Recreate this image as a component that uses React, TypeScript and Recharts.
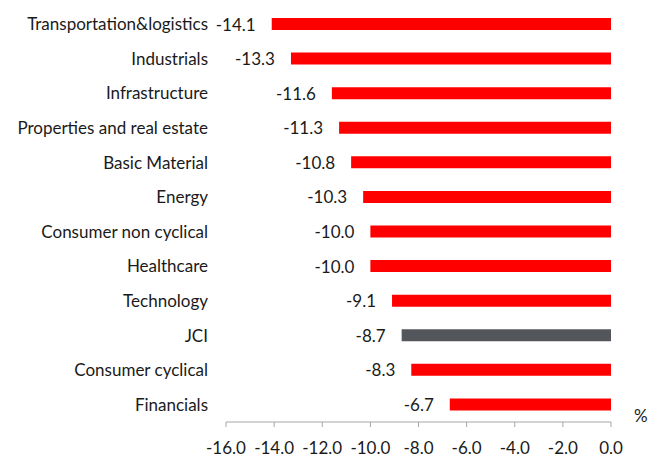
import React from "react";
import { BarChart, Bar, XAxis, YAxis, Cell, LabelList } from "recharts";

const sectors = [
  "Transportation&logistics",
  "Industrials",
  "Infrastructure",
  "Properties and real estate",
  "Basic Material",
  "Energy",
  "Consumer non cyclical",
  "Healthcare",
  "Technology",
  "JCI",
  "Consumer cyclical",
  "Financials",
];

const changes = [-14.1, -13.3, -11.6, -11.3, -10.8, -10.3, -10.0, -10.0, -9.1, -8.7, -8.3, -6.7];

const xTicks = [-16, -14, -12, -10, -8, -6, -4, -2, 0];
const edgeTicks = [0, 1, 2, 3, 4, 5, 6, 7, 8, 9, 10, 11, 12];

const data = sectors.map((name, i) => ({ name, value: changes[i] }));

const font = "Lato, 'Open Sans', sans-serif";
const axisGray = "#a6a6a6";
const textColor = "#1a1a1a";

// label sits to the left of the bar's far end (bars are negative)
const EndLabel = (props: any) => {
  const { x, y, width, height, value } = props;
  const left = Math.min(x, x + width);
  return (
    <text
      x={left - 16}
      y={y + height / 2}
      textAnchor="end"
      dominantBaseline="central"
      fill={textColor}
      fontSize={17}
      fontFamily={font}
    >
      {Number(value).toFixed(1)}
    </text>
  );
};

const App = () => {
  return (
    <div style={{ position: "absolute", left: 0, top: 0, width: 660, height: 458, background: "#fff" }}>
      <BarChart
        width={660}
        height={458}
        data={data}
        layout="vertical"
        margin={{ top: 7, right: 49, bottom: 0, left: 0 }}
        barSize={12}
      >
        <XAxis
          type="number"
          domain={[-16, 0]}
          ticks={xTicks}
          height={36}
          tickFormatter={(v: number) => v.toFixed(1)}
          stroke={axisGray}
          tickSize={5}
          tickMargin={15}
          tick={{ fill: textColor, fontSize: 17, fontFamily: font }}
        />
        <YAxis
          type="category"
          dataKey="name"
          width={226}
          axisLine={false}
          tickLine={false}
          tickSize={0}
          tickMargin={18}
          interval={0}
          tick={{ fill: textColor, fontSize: 17, fontFamily: font }}
        />
        <YAxis
          yAxisId="edge"
          type="number"
          orientation="right"
          domain={[0, 12]}
          allowDataOverflow
          ticks={edgeTicks}
          width={0}
          mirror
          tick={false}
          tickSize={4}
          stroke={axisGray}
        />
        <Bar dataKey="value" isAnimationActive={false}>
          {data.map((d) => (
            <Cell key={d.name} fill={d.name === "JCI" ? "#53565a" : "#ff0000"} />
          ))}
          <LabelList dataKey="value" content={EndLabel} />
        </Bar>
      </BarChart>
      <div
        style={{
          position: "absolute",
          left: 634,
          top: 405,
          fontSize: 17,
          fontFamily: font,
          color: textColor,
        }}
      >
        %
      </div>
    </div>
  );
};

export default App;
